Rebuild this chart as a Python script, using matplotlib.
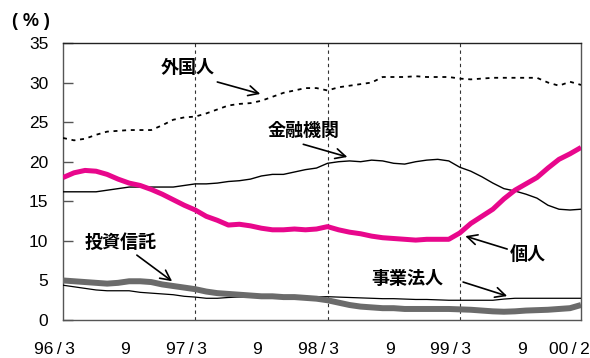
import matplotlib
matplotlib.use("Agg")
import matplotlib.pyplot as plt
from matplotlib.transforms import ScaledTranslation
import numpy as np

# months from 96/3 (index 0) to 00/2 (index 47)
months = np.arange(48)

foreign = [23.0, 22.7, 22.9, 23.4, 23.8, 23.9, 24.0, 24.0, 24.0, 24.6, 25.3, 25.6,
           25.7, 26.1, 26.6, 27.1, 27.3, 27.4, 27.7, 28.2, 28.7, 29.0, 29.3, 29.3,
           29.0, 29.4, 29.6, 29.8, 30.0, 30.7, 30.7, 30.7, 30.8, 30.7, 30.7, 30.7,
           30.5, 30.4, 30.5, 30.6, 30.6, 30.6, 30.6, 30.6, 30.0, 29.6, 30.1, 29.7]

financial = [16.2, 16.2, 16.2, 16.2, 16.4, 16.6, 16.8, 16.8, 16.8, 16.8, 16.8, 17.0,
             17.2, 17.2, 17.3, 17.5, 17.6, 17.8, 18.2, 18.4, 18.4, 18.7, 19.0, 19.2,
             19.8, 20.0, 20.1, 20.0, 20.2, 20.1, 19.8, 19.7, 20.0, 20.2, 20.3, 20.1,
             19.3, 18.8, 18.1, 17.3, 16.6, 16.3, 15.9, 15.4, 14.5, 14.0, 13.9, 14.0]

individual = [18.0, 18.6, 18.9, 18.8, 18.4, 17.8, 17.3, 17.0, 16.5, 15.9, 15.2, 14.5,
              13.9, 13.1, 12.6, 12.0, 12.1, 11.9, 11.6, 11.4, 11.4, 11.5, 11.4, 11.5,
              11.8, 11.4, 11.1, 10.9, 10.6, 10.4, 10.3, 10.2, 10.1, 10.2, 10.2, 10.2,
              11.0, 12.2, 13.1, 14.0, 15.3, 16.4, 17.2, 18.0, 19.2, 20.3, 21.0, 21.8]

inv_trust = [5.0, 4.9, 4.8, 4.7, 4.6, 4.7, 4.9, 4.9, 4.8, 4.5, 4.3, 4.1,
             3.9, 3.6, 3.4, 3.3, 3.2, 3.1, 3.0, 3.0, 2.9, 2.9, 2.8, 2.7,
             2.5, 2.2, 1.9, 1.7, 1.6, 1.5, 1.5, 1.4, 1.4, 1.4, 1.4, 1.4,
             1.35, 1.3, 1.2, 1.1, 1.05, 1.1, 1.2, 1.25, 1.3, 1.4, 1.5, 1.9]

corporate = [4.4, 4.2, 4.0, 3.8, 3.7, 3.7, 3.7, 3.5, 3.4, 3.3, 3.2, 3.0,
             2.9, 2.75, 2.75, 2.85, 2.9, 2.9, 2.95, 2.95, 3.0, 3.0, 2.95, 2.95,
             2.95, 2.9, 2.85, 2.8, 2.75, 2.7, 2.7, 2.65, 2.6, 2.6, 2.55, 2.5,
             2.5, 2.5, 2.5, 2.5, 2.65, 2.75, 2.75, 2.75, 2.75, 2.75, 2.75, 2.75]

xtick_pos = [0, 6, 12, 18, 24, 30, 36, 42, 47]
xtick_labels = ["96\u2009/\u20093", "9", "97\u2009/\u20093", "9", "98\u2009/\u20093", "9",
                "99\u2009/\u20093", "9", "00\u2009/\u20092"]
year_lines = [12, 24, 36]
yticks = [0, 5, 10, 15, 20, 25, 30, 35]

JP = ["Noto Sans CJK JP", "DejaVu Sans"]
LAT = ["Liberation Sans", "DejaVu Sans"]

fig = plt.figure(figsize=(5.9, 3.58), dpi=100)
ax = fig.add_axes([0.1068, 0.106, 0.878, 0.774])

for x in year_lines:
    ax.axvline(x, color="#333333", lw=0.8, ls=(0, (3, 3)), zorder=1)

ax.plot(months, foreign, color="black", lw=1.3, ls=(0, (2.2, 2.6)), zorder=3)
ax.plot(months, financial, color="black", lw=1.0, zorder=3)
ax.plot(months, corporate, color="black", lw=0.9, zorder=3)
ax.plot(months, inv_trust, color="#6b6b6b", lw=4.3, zorder=4, solid_capstyle="butt")
ax.plot(months, individual, color="#e8078c", lw=3.6, zorder=5, solid_capstyle="butt")

ax.set_xlim(0, 47)
ax.set_ylim(0, 35)
ax.set_yticks(yticks)
ax.set_yticklabels([str(v) for v in yticks], family=LAT, fontsize=12.5)
ax.set_xticks(xtick_pos)
ax.set_xticklabels(xtick_labels, family=LAT, fontsize=12.5)
ax.tick_params(axis="y", direction="in", length=7.5, width=1, color="#555555", pad=10.5)
ax.tick_params(axis="x", length=0, pad=16)

offsets = [-9, -4, -9, -4, -9, -4, -9, -4, -12]
for lab, dx in zip(ax.get_xticklabels(), offsets):
    lab.set_transform(lab.get_transform() + ScaledTranslation(dx / 100, 0, fig.dpi_scale_trans))

for s in ax.spines.values():
    s.set_color("#555555")
    s.set_linewidth(1.0)
ax.spines["top"].set_color("#222222")

fig.text(31 / 590, 1 - 21 / 358, "( % )", family=LAT, fontweight="bold", fontsize=13,
         ha="center", va="center")

arrow = dict(arrowstyle="->", color="black", lw=1.2, mutation_scale=18, shrinkA=0, shrinkB=0)
labels = [
    ("外国人", (11.34, 31.84), (14.0, 30.07), (17.9, 28.56)),
    ("金融機関", (21.8, 23.9), (21.8, 22.2), (25.8, 20.6)),
    ("投資信託", (5.2, 9.86), (6.7, 8.2), (9.9, 4.9)),
    ("個人", (42.2, 8.34), (40.3, 8.97), (36.5, 10.6)),
    ("事業法人", (31.2, 5.3), (36.3, 4.8), (40.3, 3.03)),
]
for txt, tpos, tail, head in labels:
    ax.text(tpos[0], tpos[1], txt, family=JP, fontweight="bold", fontsize=13,
            ha="center", va="center", zorder=6)
    ax.annotate("", xy=head, xytext=tail, arrowprops=arrow, zorder=6)

fig.savefig("out.png", dpi=100)
